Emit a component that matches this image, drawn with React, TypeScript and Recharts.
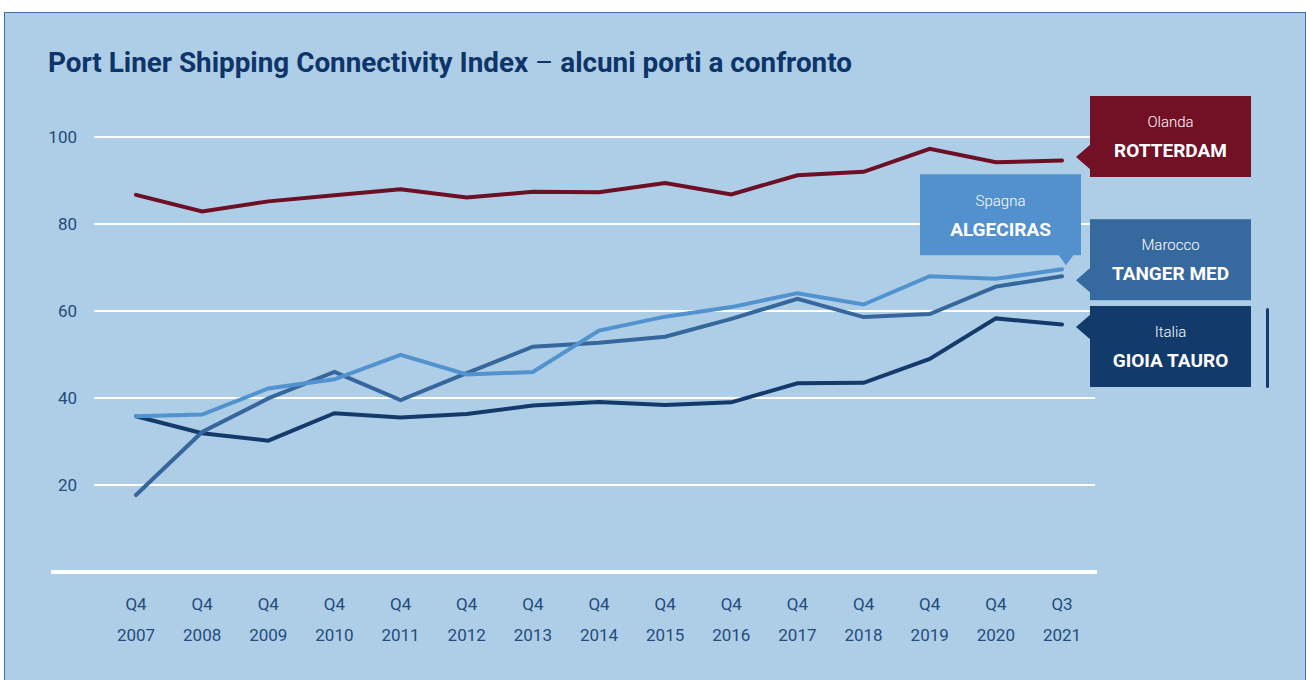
import React from "react";
import { LineChart, Line, XAxis, YAxis, CartesianGrid, ReferenceLine } from "recharts";

const years = ["2007", "2008", "2009", "2010", "2011", "2012", "2013", "2014", "2015", "2016", "2017", "2018", "2019", "2020", "2021"];
const quarters = ["Q4", "Q4", "Q4", "Q4", "Q4", "Q4", "Q4", "Q4", "Q4", "Q4", "Q4", "Q4", "Q4", "Q4", "Q3"];

const rotterdam = [86.7, 82.9, 85.2, 86.6, 88.0, 86.1, 87.4, 87.3, 89.4, 86.8, 91.2, 92.0, 97.3, 94.2, 94.6];
const algeciras = [35.8, 36.2, 42.2, 44.3, 49.9, 45.4, 46.0, 55.5, 58.7, 60.9, 64.1, 61.5, 68.0, 67.4, 69.6];
const tangerMed = [17.7, 32.2, 39.9, 46.0, 39.5, 45.7, 51.8, 52.7, 54.1, 58.2, 62.8, 58.6, 59.3, 65.6, 68.0];
const gioiaTauro = [35.8, 31.9, 30.2, 36.5, 35.5, 36.3, 38.3, 39.1, 38.4, 39.0, 43.4, 43.5, 49.0, 58.3, 56.9];

const yTicks = [20, 40, 60, 80, 100];

const data = years.map((year, i) => ({
  year,
  quarter: quarters[i],
  rotterdam: rotterdam[i],
  algeciras: algeciras[i],
  tangerMed: tangerMed[i],
  gioiaTauro: gioiaTauro[i],
}));

const BG = "#aecde6";
const TEXT = "#244c7d";
const FONT = "Roboto, 'Open Sans', sans-serif";

const last = years.length - 1;

// callout boxes sitting right of the last point
const sideCallout = (country: string, port: string, color: string, tipDy: number, boxDy: number, bar = false) =>
  (p: any) => {
    const { cx, cy, index } = p;
    if (index !== last) return <g key={`d${index}`} />;
    const tx = cx + 14;
    const ty = cy + tipDy;
    const bx = cx + 28;
    const by = cy + boxDy;
    return (
      <g key={`d${index}`}>
        <polygon points={`${tx},${ty} ${bx + 1},${ty - 13} ${bx + 1},${ty + 13}`} fill={color} />
        <rect x={bx} y={by} width={161} height={81} fill={color} />
        <text x={bx + 80.5} y={by + 31} textAnchor="middle" fill="#fff" fontSize={15} fontWeight={300} fontFamily={FONT}>
          {country}
        </text>
        <text x={bx + 80.5} y={by + 61} textAnchor="middle" fill="#fff" fontSize={19} fontWeight={700} fontFamily={FONT}>
          {port}
        </text>
        {bar && <rect x={bx + 176} y={by + 2} width={3} height={80} rx={1.5} fill={color} />}
      </g>
    );
  };

const topCallout = (country: string, port: string, color: string) => (p: any) => {
  const { cx, cy, index } = p;
  if (index !== last) return <g key={`d${index}`} />;
  const tx = cx + 4;
  const ty = cy - 4;
  const bottom = cy - 14;
  const bx = cx - 142;
  const by = bottom - 81;
  return (
    <g key={`d${index}`}>
      <polygon points={`${tx},${ty} ${tx - 8},${bottom - 1} ${tx + 8},${bottom - 1}`} fill={color} />
      <rect x={bx} y={by} width={161} height={81} fill={color} />
      <text x={bx + 80.5} y={by + 32} textAnchor="middle" fill="#fff" fontSize={15} fontWeight={300} fontFamily={FONT}>
        {country}
      </text>
      <text x={bx + 80.5} y={by + 62} textAnchor="middle" fill="#fff" fontSize={19} fontWeight={700} fontFamily={FONT}>
        {port}
      </text>
    </g>
  );
};

const XTick = (props: any) => {
  const { x, y, payload } = props;
  const i = payload.index;
  return (
    <g>
      <text x={x} y={y + 38} textAnchor="middle" fill={TEXT} fontSize={17} fontFamily={FONT}>
        {quarters[i]}
      </text>
      <text x={x} y={y + 69} textAnchor="middle" fill={TEXT} fontSize={17} fontFamily={FONT}>
        {years[i]}
      </text>
    </g>
  );
};

const Baseline = (props: any) => {
  const { x1, x2, y1 } = props;
  return <line x1={x1 - 43} x2={x2 + 2} y1={y1} y2={y1} stroke="#fff" strokeWidth={4} />;
};

export default function App() {
  return (
    <div style={{ position: "absolute", left: 0, top: 0, width: 1306, height: 680, background: "#fff", overflow: "hidden" }}>
      <div
        style={{
          position: "absolute",
          left: 4,
          top: 12,
          width: 1302,
          height: 700,
          boxSizing: "border-box",
          border: "1px solid #3d6ea5",
          background: BG,
        }}
      />
      <svg style={{ position: "absolute", left: 0, top: 0 }} width={1306} height={100}>
        <text x={48} y={72} fill="#0d3569" fontSize={27} fontWeight={700} fontFamily={FONT} textLength={804} lengthAdjust="spacingAndGlyphs">
          <tspan>Port Liner Shipping Connectivity Index</tspan>
          <tspan fontWeight={400}> – </tspan>
          <tspan>alcuni porti a confronto</tspan>
        </text>
      </svg>
      <div style={{ position: "absolute", left: 0, top: 0 }}>
        <LineChart width={1306} height={680} data={data} margin={{ top: 137, right: 211, left: 0, bottom: 48 }}>
          <CartesianGrid vertical={false} stroke="#fff" strokeWidth={2} />
          <XAxis
            dataKey="year"
            interval={0}
            axisLine={false}
            tickLine={false}
            tickSize={0}
            tickMargin={0}
            height={60}
            padding={{ left: 42, right: 33 }}
            tick={<XTick />}
          />
          <YAxis
            domain={[0, 100]}
            ticks={yTicks}
            width={94}
            axisLine={false}
            tickLine={false}
            tickSize={0}
            tickMargin={17}
            tick={{ fill: TEXT, fontSize: 17, fontFamily: FONT }}
          />
          <ReferenceLine y={0} shape={<Baseline />} />
          <Line
            dataKey="rotterdam"
            stroke="#6d0f25"
            strokeWidth={4}
            strokeLinecap="round"
            type="linear"
            isAnimationActive={false}
            activeDot={false}
            dot={sideCallout("Olanda", "ROTTERDAM", "#721026", -3.5, -64.5)}
          />
          <Line
            dataKey="gioiaTauro"
            stroke="#133a6b"
            strokeWidth={4}
            strokeLinecap="round"
            type="linear"
            isAnimationActive={false}
            activeDot={false}
            dot={sideCallout("Italia", "GIOIA TAURO", "#123a6a", 2.5, -18.5, true)}
          />
          <Line
            dataKey="tangerMed"
            stroke="#35679c"
            strokeWidth={4}
            strokeLinecap="round"
            type="linear"
            isAnimationActive={false}
            activeDot={false}
            dot={sideCallout("Marocco", "TANGER MED", "#36699e", 4, -57)}
          />
          <Line
            dataKey="algeciras"
            stroke="#5193cf"
            strokeWidth={4}
            strokeLinecap="round"
            type="linear"
            isAnimationActive={false}
            activeDot={false}
            dot={topCallout("Spagna", "ALGECIRAS", "#5291cd")}
          />
        </LineChart>
      </div>
    </div>
  );
}
